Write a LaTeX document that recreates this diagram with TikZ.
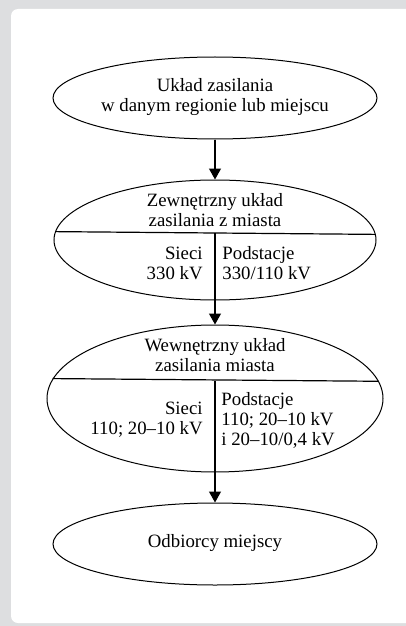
\documentclass[tikz,border=0pt]{standalone}
\usepackage{fontspec}
\setmainfont{Liberation Serif}
\usepackage{xcolor}
\usepackage{tikz}
\usetikzlibrary{arrows.meta,shapes.geometric,positioning}
\definecolor{panelgray}{RGB}{221,222,224}

\begin{document}
\begin{tikzpicture}[x=0.5pt,y=-0.5pt,
    oval/.style={draw, ellipse, line width=0.5pt, inner sep=0pt},
    txt/.style={font=\fontsize{9.4}{10}\selectfont, inner sep=0pt},
    >={Triangle[length=5.5pt,width=6pt]}]

  \useasboundingbox (0,0) rectangle (406,626);
  \clip (0,0) rectangle (406,626);
  \fill[panelgray] (0,0) rectangle (406,626);
  \fill[white, rounded corners=3.5pt] (11,9) rectangle (420,623);

  % ellipses
  \node[oval, minimum width=162pt, minimum height=41pt] (uklad) at (215,98) {};
  \node[oval, minimum width=161pt, minimum height=60pt] (zewn) at (215,240) {};
  \node[oval, minimum width=168pt, minimum height=73.5pt] (wewn) at (215,398.5) {};
  \node[oval, minimum width=162pt, minimum height=41pt] (odb) at (215,544) {};

  % dividing lines
  \draw[line width=0.6pt] (zewn.177.5) -- (zewn.2.5);
  \draw[line width=0.6pt] (wewn.173.9) -- (wewn.6.1);
  \coordinate (zdzial) at (215,233);
  \coordinate (wdzial) at (215,381);

  % texts
  \node[txt, align=center] (uklad-t) at (215,97) {Układ zasilania\\w danym regionie lub miejscu};
  \node[txt, align=center] (zewn-t) at (215,210) {Zewnętrzny układ\\zasilania z miasta};
  \node[txt, align=right, anchor=east] (zewn-sieci) at (203,263) {Sieci\\330 kV};
  \node[txt, align=left, anchor=west] (zewn-podst) at (222,263) {Podstacje\\330/110 kV};
  \node[txt, align=center] (wewn-t) at (215,355) {Wewnętrzny układ\\zasilania miasta};
  \node[txt, align=right, anchor=east] (wewn-sieci) at (203,420) {Sieci\\110; 20–10 kV};
  \node[txt, align=left, anchor=west] (wewn-podst) at (221,420) {Podstacje\\110; 20–10 kV\\i 20–10/0,4 kV};
  \node[txt] (odb-t) at (215,543) {Odbiorcy miejscy};

  % arrows
  \draw[->, line width=0.6pt] (uklad) -- (zewn);
  \draw[->, line width=0.6pt] (zdzial) -- (wewn);
  \draw[->, line width=0.6pt] (wdzial) -- (odb);

\end{tikzpicture}
\end{document}
